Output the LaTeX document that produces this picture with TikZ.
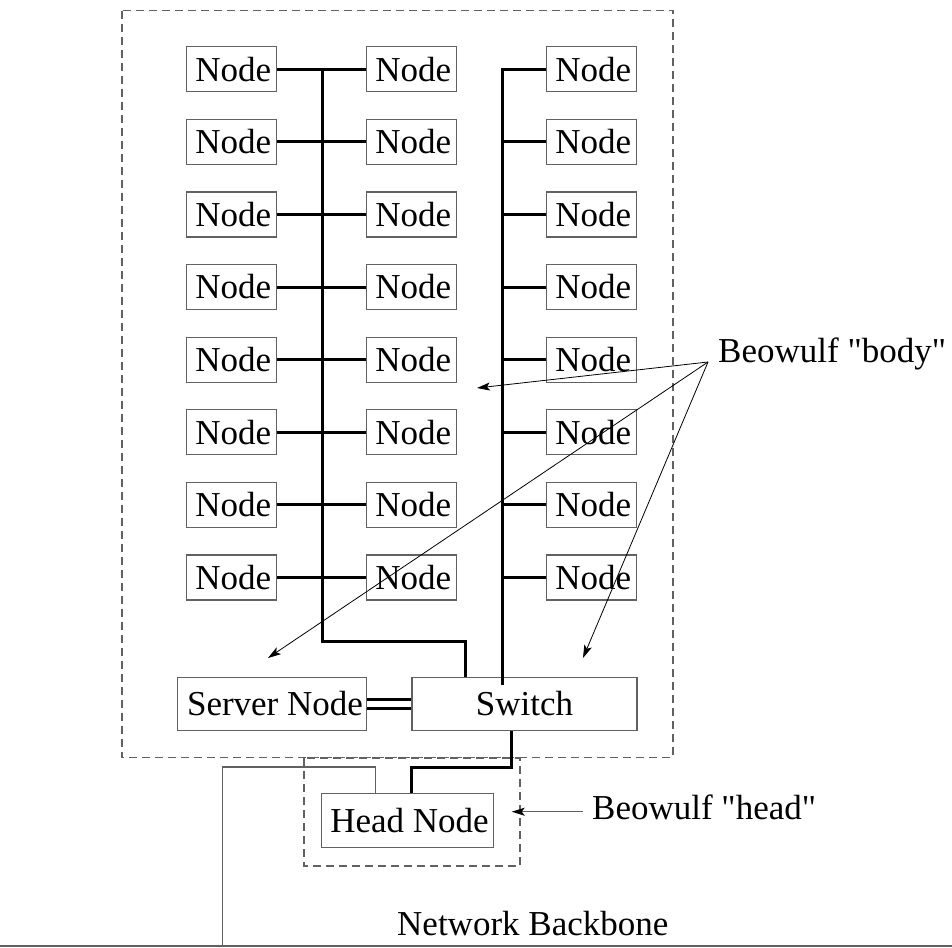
\documentclass[tikz,border=0pt]{standalone}
\usepackage{fontspec}
\setmainfont{Liberation Serif}[Ligatures=TeXOff]
\usetikzlibrary{arrows.meta}
\begin{document}
\begin{tikzpicture}[x=1pt,y=-1pt,
  every node/.style={font=\fontsize{35}{41}\selectfont},
  box/.style={draw=black!62,line width=1.2pt,inner sep=0pt,minimum height=45pt},
  nodebox/.style={box,minimum width=90pt},
  bus/.style={line width=3pt,black},
  thin/.style={draw=black!62,line width=1.2pt},
  dash box/.style={draw=black!62,line width=1.2pt,dash pattern=on 8pt off 5pt},
  ptr/.style={black,line width=0.8pt,-{Stealth[length=13pt,width=8pt,inset=3pt]}},
  lbl/.style={inner sep=0pt,anchor=base west}]
\useasboundingbox (0,0) rectangle (952,947);
% dashed boundaries
\draw[dash box] (122,10.7) rectangle (673,757.5);
\draw[dash box] (304,758) rectangle (520,866);
% node grid
\foreach \r in {1,...,8}{
  \pgfmathsetmacro{\yy}{69.2+72.6*(\r-1)}
  \node[nodebox] (a\r) at (231.7,\yy) {\hspace{3pt}Node};
  \node[nodebox] (b\r) at (411.7,\yy) {\hspace{3pt}Node};
  \node[nodebox] (c\r) at (591.7,\yy) {\hspace{3pt}Node};
}
% server, switch, head
\node[box,minimum width=189.4pt,minimum height=53.3pt] (srv) at (272,703.8) {\hspace{6pt}Server Node};
\node[box,minimum width=225pt,minimum height=53.3pt] (sw) at (524.5,703.8) {Switch};
\node[box,minimum width=171.6pt,minimum height=54.4pt] (hn) at (407.5,820.5) {\hspace{4pt}Head Node};
% coordinates of buses
\coordinate (lbtop) at (322,69.2);
\coordinate (lbbot) at (322,641);
\coordinate (rbend) at (502.5,685);
% left bus
\foreach \r in {1,...,8}{
  \draw[bus] (a\r.east) -- (b\r.west);
}
\draw[bus] (lbtop) -- (lbbot) -| ([xshift=54pt]sw.north west);
% right bus
\draw[bus] (c1.west) -| (rbend);
\foreach \r in {2,...,8}{
  \draw[bus] (c\r.west) -- (c\r.west -| rbend);
}
% server to switch double link
\draw[bus] ([yshift=-4.5pt]srv.east) -- ([yshift=-4.5pt]sw.west |- srv.east);
\draw[bus] ([yshift=4.5pt]srv.east) -- ([yshift=4.5pt]sw.west |- srv.east);
% switch to head node
\coordinate (jog) at (511.7,767);
\draw[bus] (sw.south -| jog) -- (jog) -| ([xshift=90pt]hn.north west);
% head node to backbone
\coordinate (bbup) at (222.7,767);
\coordinate (bbl) at (0,946);
\coordinate (bbr) at (952,946);
\draw[thin] ([xshift=54.3pt]hn.north west) |- (bbup) -- (bbup |- bbl);
\draw[thin] (bbl) -- (bbr);
\node[lbl] (nb) at (397,935) {Network Backbone};
% labels and pointers
\node[lbl] (body) at (718,362) {Beowulf "body"};
\coordinate (bo) at (708,362);
\coordinate (t1) at (477,388);
\coordinate (t2) at (268,658);
\coordinate (t3) at (583,658);
\draw[ptr] (bo) -- (t1);
\draw[ptr] (bo) -- (t2);
\draw[ptr] (bo) -- (t3);
\node[lbl] (head) at (592,819) {Beowulf "head"};
\coordinate (ho) at (583,811.7);
\coordinate (ht) at (511.7,811.7);
\draw[draw=black!62,line width=1.2pt,-{Stealth[length=13pt,width=8pt,inset=3pt,fill=black,color=black]}] (ho) -- (ht);
\end{tikzpicture}
\end{document}
